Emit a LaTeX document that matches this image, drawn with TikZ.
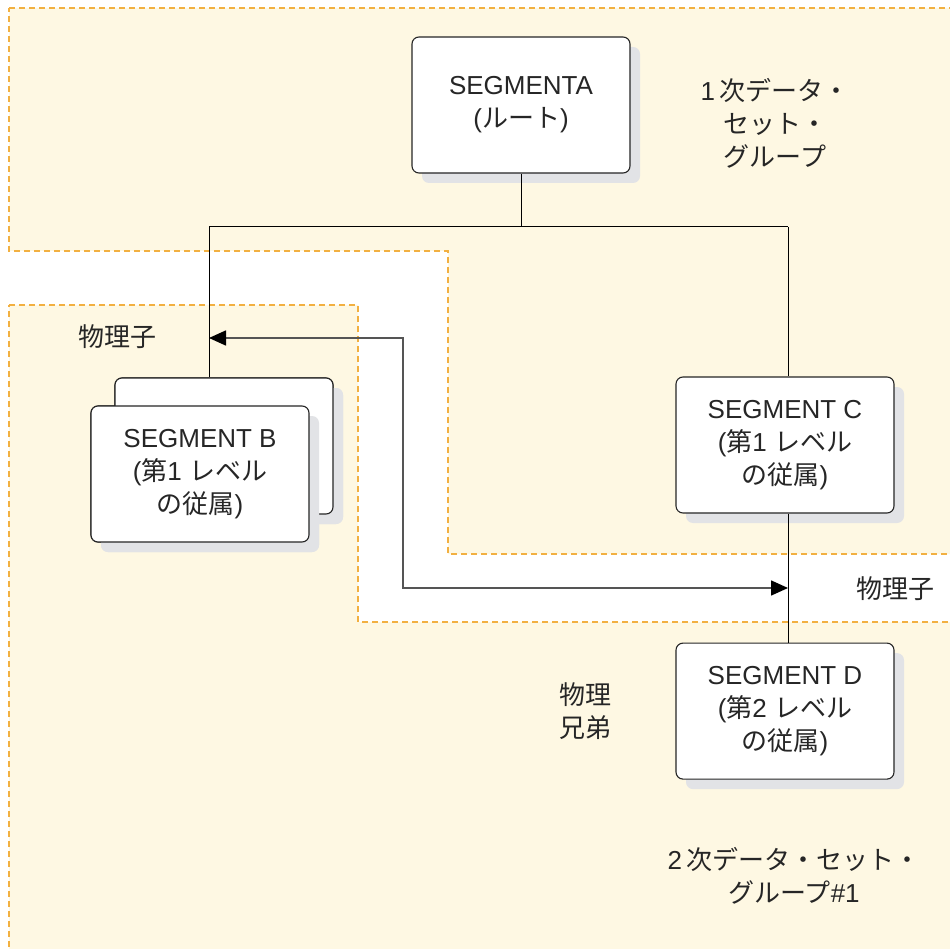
\documentclass[tikz,border=0pt]{standalone}
\usepackage{fontspec}
\setmainfont{Liberation Sans}
\newfontfamily\jpfont{Noto Sans CJK JP}
\newcommand{\jp}[1]{{\jpfont #1}}
\usepackage{xcolor}
\usepackage{tikz}
\usetikzlibrary{shapes.geometric, arrows.meta, positioning, shadows}

\definecolor{regionfill}{RGB}{254,248,227}
\definecolor{regionline}{RGB}{242,176,65}
\definecolor{shadowgray}{RGB}{226,227,230}
\definecolor{arrowgray}{RGB}{85,85,85}

\begin{document}
\begin{tikzpicture}[x=1pt, y=-1pt, node distance=129pt, font=\fontsize{26}{33}\selectfont, text=black!85]
				% Styles
				\tikzstyle{segbox} = [draw=black!85, fill=white, rectangle, minimum height=136pt, minimum width=218pt, rounded corners=7pt, align=center, line width=1.1pt, inner sep=0pt, drop shadow={shadow xshift=10pt, shadow yshift=-10pt, fill=shadowgray, opacity=1}]
				\tikzstyle{region} = [fill=regionfill, draw=regionline, line width=1.2pt, dash pattern=on 6pt off 4pt]
				\tikzstyle{link} = [draw=black, line width=1pt]
				\tikzstyle{arrow} = [draw=arrowgray, line width=1.6pt, {Triangle[length=17pt, width=15pt, fill=black, color=black]}-{Triangle[length=17pt, width=15pt, fill=black, color=black]}]
				\tikzstyle{note} = [align=center]

				\useasboundingbox [fill=white] (0,0) rectangle (950,949);

				% Data set groups
				\draw [region] (9,8) -- (960,8) -- (960,554) -- (448,554) -- (448,251) -- (9,251) -- cycle;
				\draw [region] (9,305) -- (358,305) -- (358,622) -- (960,622) -- (960,960) -- (9,960) -- cycle;

				% Nodes
				\node (segA) [segbox] at (521,105) {SEGMENTA\\(\jp{ルート})};
				\node (segBback) [segbox] at (224,446) {};
				\node (segB) [segbox] at (200,474) {SEGMENT B\\(\jp{第}1 \jp{レベル}\\\jp{の従属})};
				\node (segC) [segbox] at (785,445) {SEGMENT C\\(\jp{第}1 \jp{レベル}\\\jp{の従属})};
				\node (segD) [segbox, below=of segC] {SEGMENT D\\(\jp{第}2 \jp{レベル}\\\jp{の従属})};

				\node (primary) [note] at (775,123) {1\,\jp{次データ・}\\\jp{セット・}\\\jp{グループ}};
				\node (childL) [note] at (117,337) {\jp{物理子}};
				\node (childR) [note] at (895,589) {\jp{物理子}};
				\node (sibling) [note] at (585,711) {\jp{物理}\\\jp{兄弟}};
				\node (secondary) [note] at (794,876) {2\,\jp{次データ・セット・}\\\jp{グループ}\#1};

				% Connections
				\coordinate (busA) at (521,227);
				\coordinate (busB) at (209,227);
				\coordinate (busC) at (788,227);
				\coordinate (loopTop) at (403,338);
				\coordinate (loopBot) at (403,588);
				\draw [link] (segA.south) -- (busA);
				\draw [link] (busB) -- (busC);
				\draw [link] (busB) -- (busB |- segBback.north);
				\draw [link] (busC) -- (busC |- segC.north);
				\draw [link] (segC.south -| busC) -- (segD.north -| busC);
				\draw [arrow] (loopTop -| busB) -- (loopTop) -- (loopBot) -- (loopBot -| busC);

				% Boxes again on top of the lines
				\node [segbox] at (segBback) {};
				\node [segbox] at (segB) {SEGMENT B\\(\jp{第}1 \jp{レベル}\\\jp{の従属})};
\end{tikzpicture}
\end{document}
